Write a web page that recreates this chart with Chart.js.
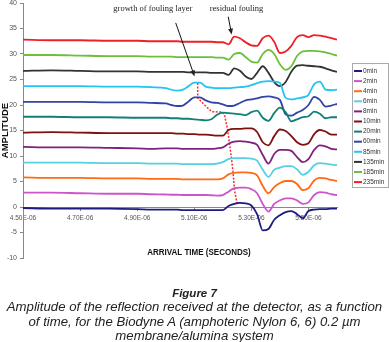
<!DOCTYPE html>
<html>
<head>
<meta charset="utf-8">
<script src="https://cdn.jsdelivr.net/npm/chart.js@4.4.1/dist/chart.umd.min.js"></script>
<style>
  html, body { margin: 0; padding: 0; background: #fff; }
  #wrap { position: relative; width: 389px; height: 342px; overflow: hidden; }
  #chart { position: absolute; left: 0; top: 0; }
  .cap { position: absolute; left: 0; width: 389px; text-align: center;
         font-family: "Liberation Sans", Arial, sans-serif; font-style: italic; color: #222; }
  #fig { top: 286px; font-size: 11.5px; font-weight: bold; line-height: 15px; }
  #desc { top: 300px; font-size: 13.2px; line-height: 14.6px; white-space: nowrap; }
</style>
</head>
<body>
<div id="wrap">
  <canvas id="chart" width="389" height="342"></canvas>
  <div class="cap" id="fig">Figure 7</div>
  <div class="cap" id="desc">Amplitude of the reflection received at the detector, as a function<br>of time, for the Biodyne A (amphoteric Nylon 6, 6) 0.2 µm<br>membrane/alumina system</div>
</div>
<script>
// arrival time, in microseconds (axis labels show it as E-06 seconds)
const TIME_US = [4.50, 4.60, 4.70, 4.80, 4.90, 4.95,
  5.00, 5.02, 5.04, 5.06, 5.08, 5.10, 5.12, 5.14, 5.16, 5.18,
  5.20, 5.22, 5.24, 5.26, 5.28, 5.30, 5.32, 5.34, 5.36, 5.38,
  5.40, 5.42, 5.44, 5.46, 5.48, 5.50, 5.52, 5.54, 5.56, 5.58, 5.60];

const X_TICKS = [4.5, 4.7, 4.9, 5.1, 5.3, 5.5];

const LABELS = ['0min', '2min', '4min', '6min', '8min', '10min', '20min',
  '60min', '85min', '135min', '185min', '235min'];

const COLORS = ['#1c1c80', '#cc55cc', '#ff6a13', '#58d0e0', '#80207f', '#7f1010',
  '#108078', '#3344a8', '#22c4f2', '#333333', '#6cbf3a', '#ee2026'];

const AMP_0MIN = [-0.2, -0.3, -0.3, -0.3, -0.4, -0.5,
  -0.5, -0.5, -0.5, -0.6, -0.6, -0.6, -0.6, -0.6, -0.6, -0.6,
  -0.6, 0.2, 0.6, 0.8, 0.7, 0.3, -1.4, -4.6, -4.3, -2.5,
  -1.6, -1.0, -0.8, -1.4, -2.2, -0.8, -0.5, -0.4, -0.4, -0.3, -0.3];
const AMP_2MIN = [2.8, 2.8, 2.7, 2.6, 2.6, 2.5,
  2.45, 2.4, 2.4, 2.35, 2.35, 2.35, 2.35, 2.35, 2.3, 2.25,
  2.35, 3.0, 3.7, 3.8, 3.8, 3.5, 2.7, 0.6, -0.9, 0.6,
  1.3, 1.7, 1.7, 1.3, 0.6, 0.9, 2.35, 2.9, 2.8, 2.5, 2.35];
const AMP_4MIN = [5.8, 5.7, 5.7, 5.6, 5.6, 5.5,
  5.5, 5.5, 5.5, 5.4, 5.4, 5.4, 5.4, 5.4, 5.4, 5.4,
  5.6, 6.4, 6.7, 6.8, 6.8, 6.7, 6.2, 4.1, 2.7, 3.9,
  4.7, 5.1, 5.1, 4.5, 3.3, 3.7, 5.2, 5.7, 5.6, 5.3, 5.1];
const AMP_6MIN = [8.7, 8.7, 8.7, 8.6, 8.6, 8.5,
  8.5, 8.5, 8.5, 8.4, 8.4, 8.4, 8.4, 8.4, 8.4, 8.5,
  8.8, 9.4, 9.6, 9.6, 9.6, 9.5, 9.1, 7.3, 5.9, 7.3,
  7.7, 8.0, 8.0, 7.4, 6.3, 6.9, 8.2, 8.6, 8.5, 8.3, 8.2];
const AMP_8MIN = [11.8, 11.7, 11.7, 11.6, 11.5, 11.4,
  11.5, 11.5, 11.5, 11.4, 11.4, 11.4, 11.4, 11.4, 11.4, 11.5,
  11.7, 12.4, 12.8, 12.9, 12.8, 12.6, 12.2, 10.2, 8.5, 10.4,
  11.2, 11.2, 11.0, 9.8, 8.8, 9.4, 11.2, 12.1, 11.9, 11.4, 11.3];
const AMP_10MIN = [14.6, 14.7, 14.6, 14.5, 14.5, 14.5,
  14.5, 14.5, 14.4, 14.4, 14.3, 14.3, 14.2, 14.2, 14.1, 14.0,
  14.0, 15.1, 15.3, 15.3, 15.4, 15.4, 14.7, 12.7, 12.1, 13.9,
  15.2, 14.9, 13.9, 12.7, 12.2, 12.5, 14.3, 15.1, 14.8, 14.2, 14.2];
const AMP_20MIN = [17.7, 17.7, 17.6, 17.6, 17.5, 17.5,
  17.5, 17.4, 17.4, 17.3, 17.3, 17.2, 17.1, 17.0, 17.2, 18.1,
  18.5, 18.4, 18.3, 18.2, 18.0, 18.6, 18.9, 17.5, 16.9, 18.4,
  19.5, 18.6, 16.8, 17.2, 17.6, 17.8, 18.7, 18.3, 17.4, 17.6, 17.6];
const AMP_60MIN = [20.6, 20.6, 20.6, 20.5, 20.5, 20.4,
  20.3, 20.0, 19.8, 19.9, 20.7, 21.5, 21.5, 20.9, 20.5, 20.4,
  20.1, 19.8, 19.9, 20.4, 20.9, 21.1, 21.3, 21.6, 21.7, 21.5,
  21.0, 18.2, 17.9, 18.5, 19.0, 20.0, 21.6, 21.0, 19.7, 19.9, 20.2];
const AMP_85MIN = [23.7, 23.7, 23.7, 23.6, 23.6, 23.5,
  23.3, 23.0, 22.8, 23.0, 23.7, 24.4, 24.4, 23.6, 23.4, 23.3,
  23.3, 23.3, 23.4, 23.5, 23.6, 23.9, 24.3, 24.6, 24.7, 24.6,
  24.3, 21.4, 21.1, 21.3, 21.5, 22.0, 24.1, 24.6, 23.0, 22.9, 23.0];
const AMP_135MIN = [26.7, 26.8, 26.7, 26.6, 26.6, 26.5,
  26.5, 26.5, 26.5, 26.5, 26.4, 26.4, 26.4, 26.4, 26.3, 26.3,
  26.3, 25.9, 27.2, 26.7, 25.6, 25.1, 26.3, 27.6, 26.3, 24.5,
  23.7, 24.5, 26.5, 27.7, 27.8, 27.7, 27.6, 27.5, 27.2, 26.8, 26.5];
const AMP_185MIN = [29.8, 29.8, 29.7, 29.6, 29.6, 29.5,
  29.5, 29.5, 29.4, 29.4, 29.4, 29.4, 29.4, 29.4, 29.4, 29.3,
  29.3, 28.9, 30.0, 30.2, 29.4, 28.5, 28.3, 30.0, 30.8, 30.0,
  28.0, 26.9, 27.6, 29.6, 30.5, 30.6, 30.6, 30.5, 30.3, 30.0, 29.7];
const AMP_235MIN = [32.8, 32.7, 32.7, 32.6, 32.6, 32.5,
  32.5, 32.5, 32.5, 32.4, 32.4, 32.4, 32.4, 32.4, 32.4, 32.3,
  32.3, 31.9, 33.4, 33.1, 32.3, 31.7, 31.6, 33.1, 33.6, 32.4,
  30.2, 30.5, 31.6, 33.3, 33.7, 33.3, 33.7, 33.6, 33.4, 33.1, 32.8];

const SERIES = [AMP_0MIN, AMP_2MIN, AMP_4MIN, AMP_6MIN, AMP_8MIN, AMP_10MIN,
  AMP_20MIN, AMP_60MIN, AMP_85MIN, AMP_135MIN, AMP_185MIN, AMP_235MIN];

// red dotted trace linking the first echo of each curve
const FRONT_T = [5.112, 5.112, 5.136, 5.161, 5.199, 5.206, 5.217, 5.224, 5.231, 5.236, 5.241, 5.250];
const FRONT_A = [24.3, 21.4, 20.0, 18.7, 18.6, 18.0, 15.1, 12.2, 9.2, 6.7, 3.3, 0.6];

// callouts: text anchor and arrow from/to, in data units
const NOTE_TEXT = ['growth of fouling layer', 'residual fouling'];
const NOTE_AT = [[4.955, 38.8], [5.248, 38.8]];
const NOTE_ARROW = [[[5.035, 36.1], [5.101, 25.6]], [[5.219, 37.3], [5.231, 33.8]]];

const SANS = '"Liberation Sans", Arial, sans-serif';

const datasets = SERIES.map((vals, i) => ({
  label: LABELS[i],
  data: TIME_US.map((t, j) => ({ x: t, y: vals[j] })),
  borderColor: COLORS[i],
  borderWidth: 1.8,
  cubicInterpolationMode: 'monotone',
}));
datasets.push({
  label: '',
  data: FRONT_T.map((t, j) => ({ x: t, y: FRONT_A[j] })),
  borderColor: '#ff2a2a',
  borderWidth: 1.5,
  borderDash: [2, 1.5],
  tension: 0,
});

function arrow(ctx, x1, y1, x2, y2) {
  const a = Math.atan2(y2 - y1, x2 - x1);
  ctx.beginPath();
  ctx.moveTo(x1, y1);
  ctx.lineTo(x2 - 4 * Math.cos(a), y2 - 4 * Math.sin(a));
  ctx.stroke();
  ctx.beginPath();
  ctx.moveTo(x2, y2);
  ctx.lineTo(x2 - 6 * Math.cos(a) + 2.5 * Math.sin(a), y2 - 6 * Math.sin(a) - 2.5 * Math.cos(a));
  ctx.lineTo(x2 - 6 * Math.cos(a) - 2.5 * Math.sin(a), y2 - 6 * Math.sin(a) + 2.5 * Math.cos(a));
  ctx.closePath();
  ctx.fill();
}

const notes = {
  id: 'notes',
  afterDraw(chart) {
    const { ctx, chartArea, scales: { x, y } } = chart;
    ctx.save();

    // callouts
    ctx.fillStyle = '#222';
    ctx.strokeStyle = '#111';
    ctx.lineWidth = 1;
    ctx.font = '8.5px "Liberation Serif", "Times New Roman", serif';
    ctx.textAlign = 'center';
    ctx.textBaseline = 'middle';
    NOTE_TEXT.forEach((txt, i) => {
      ctx.fillText(txt, x.getPixelForValue(NOTE_AT[i][0]), y.getPixelForValue(NOTE_AT[i][1]));
      const [p, q] = NOTE_ARROW[i];
      arrow(ctx, x.getPixelForValue(p[0]), y.getPixelForValue(p[1]),
        x.getPixelForValue(q[0]), y.getPixelForValue(q[1]));
    });

    // axis titles
    ctx.fillStyle = '#111';
    ctx.font = 'bold 9px ' + SANS;
    ctx.save();
    ctx.translate(199, 253);
    ctx.scale(0.89, 1);
    ctx.fillText('ARRIVAL TIME (SECONDS)', 0, 0);
    ctx.restore();
    ctx.save();
    ctx.translate(5, (chartArea.top + chartArea.bottom) / 2);
    ctx.rotate(-Math.PI / 2);
    ctx.font = 'bold 9.5px ' + SANS;
    ctx.fillText('AMPLITUDE', 0, 0);
    ctx.restore();

    // legend box
    const lx = chartArea.right + 15, ly = 63, rowH = 10.1;
    ctx.strokeStyle = '#aaa';
    ctx.strokeRect(lx + 0.5, ly + 0.5, 36, 124);
    ctx.font = '6.5px ' + SANS;
    ctx.textAlign = 'left';
    ctx.fillStyle = '#333';
    LABELS.forEach((lab, i) => {
      const yy = ly + 8 + i * rowH;
      ctx.strokeStyle = COLORS[i];
      ctx.lineWidth = 2;
      ctx.beginPath();
      ctx.moveTo(lx + 2, yy);
      ctx.lineTo(lx + 10, yy);
      ctx.stroke();
      ctx.fillText(lab, lx + 11, yy);
    });
    ctx.restore();
  },
};

new Chart(document.getElementById('chart'), {
  type: 'line',
  data: { datasets },
  options: {
    responsive: false,
    animation: false,
    devicePixelRatio: 1,
    layout: { padding: { left: 0, top: 3, right: 52, bottom: 84 } },
    plugins: { legend: { display: false }, tooltip: { enabled: false } },
    elements: { point: { radius: 0 } },
    scales: {
      x: {
        type: 'linear',
        min: 4.5,
        max: 5.6,
        position: { y: 0 },
        grid: { display: true, drawOnChartArea: false, tickLength: 3, color: '#888' },
        border: { display: true, color: '#888' },
        ticks: {
          autoSkip: false, maxRotation: 0, padding: 4, color: '#555',
          font: { family: SANS, size: 6.5 },
          callback: v => v.toFixed(2) + 'E-06',
        },
        afterBuildTicks: s => { s.ticks = X_TICKS.map(v => ({ value: v })); },
        afterFit: s => { s.height = 0; s.paddingLeft = 0; s.paddingRight = 0; },
      },
      y: {
        min: -10,
        max: 40,
        ticks: { stepSize: 5, color: '#555', padding: 3, font: { family: SANS, size: 7 } },
        grid: { display: true, drawOnChartArea: false, tickLength: 3, color: '#888' },
        border: { display: true, color: '#888' },
        afterFit: s => { s.width = 23; s.paddingTop = 0; s.paddingBottom = 0; },
      },
    },
  },
  plugins: [notes],
});
</script>
</body>
</html>
